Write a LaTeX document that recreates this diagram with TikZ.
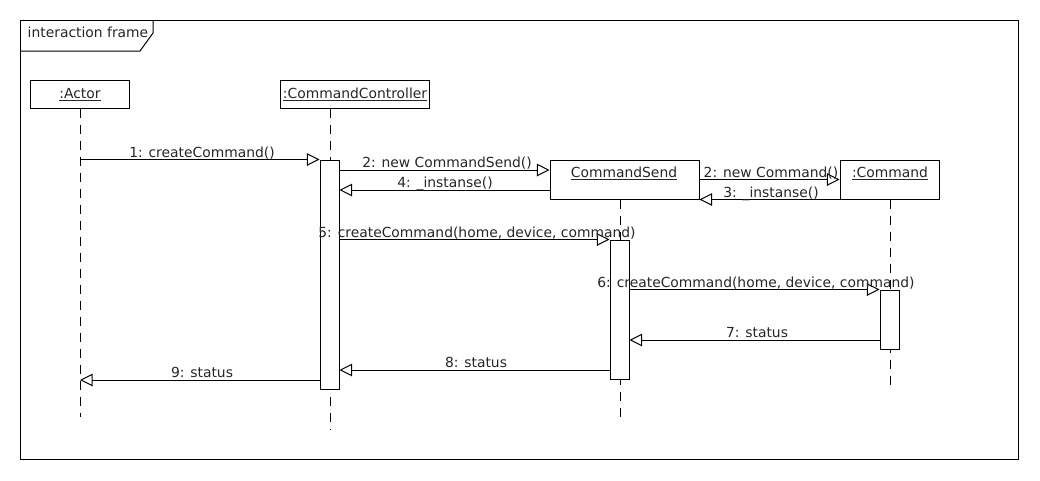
\documentclass[tikz,border=0pt]{standalone}
\usepackage{fontspec}
\setmainfont{DejaVu Sans}
\usetikzlibrary{arrows.meta}
\begin{document}
\begin{tikzpicture}[x=0.75pt,y=-0.75pt,
  every node/.style={font=\fontsize{10.4}{12}\selectfont, inner sep=0pt, text=black!85},
  obj/.style={draw, line width=0.75pt, fill=white},
  act/.style={draw, line width=0.75pt, fill=white, minimum width=19*0.75pt},
  life/.style={line width=0.75pt, dash pattern=on 7pt off 5pt},
  msg/.style={line width=0.75pt, -{Triangle[open,length=9.5pt,width=9.5pt,line width=0.75pt]}},
  lbl/.style={anchor=base}]
\useasboundingbox (0,0) rectangle (1040,480);
\fill[white] (0,0) rectangle (1040,480);
% frame
\draw[line width=0.75pt] (20,20) rectangle (1018,459);
\draw[line width=0.75pt] (20,51) -- (140,51) -- (153,33) -- (153,20);
\node[lbl] (title) at (88,37) {interaction frame};
% objects
\node[obj, minimum width=99*0.75pt, minimum height=28*0.75pt] (actor) at (79.5,94) {};
\node[obj, minimum width=149*0.75pt, minimum height=28*0.75pt] (cc) at (354.5,94) {};
\node[obj, minimum width=149*0.75pt, minimum height=39*0.75pt] (cs) at (624.5,179.5) {};
\node[obj, minimum width=99*0.75pt, minimum height=39*0.75pt] (cmd) at (889.5,179.5) {};
\node[lbl] (actorT) at (80,98) {\underline{:Actor}};
\node[lbl] (ccT) at (355,98) {\underline{:CommandController}};
\node[lbl] (csT) at (624,177) {\underline{CommandSend}};
\node[lbl] (cmdT) at (890,177) {\underline{:Command}};
% lifelines
\coordinate (actorEnd) at (80,417);
\coordinate (ccEnd) at (330,430);
\coordinate (csEnd) at (620,420);
\coordinate (cmdEnd) at (890,390);
\draw[life] (actor.south -| actorEnd) -- (actorEnd);
\draw[life] (cc.south -| ccEnd) -- (ccEnd);
\draw[life] (cs.south -| csEnd) -- (csEnd);
\draw[life] (cmd.south -| cmdEnd) -- (cmdEnd);
% activations
\node[act, minimum height=229*0.75pt] (ccA) at (329.5,274.5) {};
\node[act, minimum height=139*0.75pt] (csA) at (619.5,309.5) {};
\node[act, minimum height=59*0.75pt] (cmdA) at (889.5,319.5) {};
% message levels
\coordinate (y2) at (0,170);
\coordinate (y4) at (0,190);
\coordinate (y7) at (0,340);
\coordinate (y8) at (0,370);
\coordinate (y9) at (0,380);
% messages
\draw[msg] (actorEnd |- ccA.north) -- (ccA.north west);
\draw[msg] (ccA.east |- y2) -- (cs.west |- y2);
\draw[msg] (cs.west |- y4) -- (ccA.east |- y4);
\draw[msg] (cs.east) -- (cmd.west);
\draw[msg] (cmd.south west) -- (cs.south east);
\draw[msg] (ccA.east |- csA.north) -- (csA.north west);
\draw[msg] (csA.east |- cmdA.north) -- (cmdA.north west);
\draw[msg] (cmdA.west |- y7) -- (csA.east |- y7);
\draw[msg] (csA.west |- y8) -- (ccA.east |- y8);
\draw[msg] (ccA.west |- y9) -- (actorEnd |- y9);
% labels
\node[lbl] (l1) at (202,157) {1: createCommand()};
\node[lbl] (l2) at (447,167) {2: new CommandSend()};
\node[lbl] (l4) at (445,187) {4: \_instanse()};
\node[lbl] (l2b) at (771,177) {2: new Command()};
\node[lbl] (l3) at (771,197) {3: \_instanse()};
\node[lbl] (l5) at (477,237) {5: createCommand(home, device, command)};
\node[lbl] (l6) at (756,287) {6: createCommand(home, device, command)};
\node[lbl] (l7) at (757,337) {7: status};
\node[lbl] (l8) at (476,367) {8: status};
\node[lbl] (l9) at (202,377) {9: status};
\end{tikzpicture}
\end{document}
